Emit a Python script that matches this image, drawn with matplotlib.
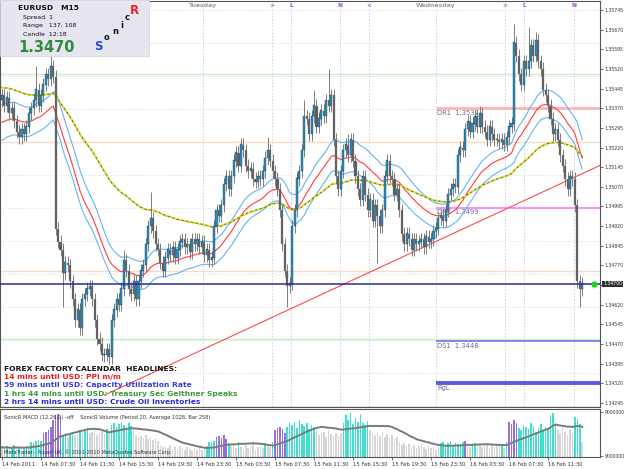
import numpy as np
import pandas as pd
import matplotlib
matplotlib.use('Agg')
import matplotlib.pyplot as plt
import matplotlib.transforms as mtransforms
from matplotlib.patches import Rectangle

# EURUSD M15, one close per bar, bar 0 = 14 Feb 2011 03:30
closes = [
    1.3542, 1.3538, 1.3541, 1.3535, 1.3537, 1.3532, 1.3528, 1.3526, 1.3529, 1.3527,
    1.3530, 1.3535, 1.3537, 1.3540, 1.3544, 1.3538, 1.3542, 1.3546, 1.3550, 1.3548,
    1.3553, 1.3549, 1.3491, 1.3486, 1.3483, 1.3474, 1.3478, 1.3477, 1.3471, 1.3464,
    1.3456, 1.3460, 1.3453, 1.3464, 1.3466, 1.3468, 1.3469, 1.3464, 1.3456, 1.3449,
    1.3447, 1.3443, 1.3443, 1.3445, 1.3442, 1.3456, 1.3460, 1.3464, 1.3462, 1.3468,
    1.3479, 1.3475, 1.3468, 1.3466, 1.3471, 1.3464, 1.3471, 1.3475, 1.3477, 1.3485,
    1.3492, 1.3495, 1.3490, 1.3485, 1.3483, 1.3478, 1.3475, 1.3480, 1.3483, 1.3481,
    1.3484, 1.3480, 1.3483, 1.3486, 1.3487, 1.3484, 1.3485, 1.3482, 1.3487, 1.3485,
    1.3487, 1.3484, 1.3486, 1.3481, 1.3483, 1.3479, 1.3480, 1.3492, 1.3498, 1.3496,
    1.3500, 1.3508, 1.3511, 1.3506, 1.3511, 1.3517, 1.3520, 1.3515, 1.3523, 1.3521,
    1.3515, 1.3513, 1.3514, 1.3510, 1.3509, 1.3511, 1.3510, 1.3513, 1.3518, 1.3521,
    1.3517, 1.3513, 1.3510, 1.3506, 1.3498, 1.3485, 1.3475, 1.3469, 1.3470, 1.3492,
    1.3498, 1.3510, 1.3513, 1.3521, 1.3534, 1.3533, 1.3527, 1.3534, 1.3538, 1.3530,
    1.3533, 1.3536, 1.3534, 1.3540, 1.3538, 1.3542, 1.3525, 1.3511, 1.3506, 1.3513,
    1.3521, 1.3523, 1.3519, 1.3525, 1.3517, 1.3511, 1.3506, 1.3502, 1.3511, 1.3504,
    1.3498, 1.3502, 1.3494, 1.3500, 1.3496, 1.3492, 1.3498, 1.3511, 1.3517, 1.3511,
    1.3510, 1.3504, 1.3506, 1.3498, 1.3489, 1.3485, 1.3489, 1.3487, 1.3483, 1.3487,
    1.3485, 1.3486, 1.3487, 1.3484, 1.3488, 1.3486, 1.3487, 1.3490, 1.3491, 1.3495,
    1.3496, 1.3494, 1.3498, 1.3504, 1.3506, 1.3508, 1.3507, 1.3519, 1.3522, 1.3521,
    1.3529, 1.3532, 1.3528, 1.3531, 1.3534, 1.3530, 1.3535, 1.3530, 1.3528, 1.3525,
    1.3530, 1.3527, 1.3525, 1.3525, 1.3524, 1.3525, 1.3523, 1.3526, 1.3530, 1.3531,
    1.3562, 1.3557, 1.3550, 1.3546, 1.3555, 1.3552, 1.3555, 1.3561, 1.3557, 1.3563,
    1.3555, 1.3552, 1.3544, 1.3542, 1.3538, 1.3533, 1.3527, 1.3529, 1.3525, 1.3519,
    1.3515, 1.3510, 1.3506, 1.3511, 1.3510, 1.3500, 1.3471, 1.3468, 1.3470,
]
first_open = 1.3540
wick = 0.00025
high_marks = {14: 1.3553, 20: 1.3557, 50: 1.3483, 61: 1.3505, 98: 1.3525, 109: 1.3526,
              124: 1.3540, 128: 1.3544, 134: 1.3552, 142: 1.3527, 196: 1.3538,
              210: 1.3569, 216: 1.3568, 219: 1.3566}
low_marks = {25: 1.3461, 42: 1.3440, 117: 1.3461, 154: 1.3478, 237: 1.3461}

# tick volume (percent of window) and climax bars
volumes = [
    20, 18, 22, 15, 19, 24, 17, 21, 16, 20, 23, 18,
    30, 28, 33, 35, 32,
    48, 52, 55, 62, 75, 86, 88, 80,
    45, 50, 40, 48, 52, 44, 46,
    55, 50, 58, 60, 48, 52, 56, 45, 50, 54, 47, 58, 50,
    66, 70, 62, 68, 72, 65, 60, 70, 64, 58,
    45, 40, 42, 38, 44, 36, 40, 35, 38, 32,
    25, 20, 22, 18, 24, 16, 20, 15, 22, 18, 14, 20, 17, 12, 18, 15, 20, 14, 16, 22,
    30, 28, 32,
    40, 42, 38, 44, 36,
    28, 22, 25, 18, 30, 20, 16, 24, 19, 22, 26, 15, 20, 23, 18, 28, 24, 21,
    30,
    55, 60, 62, 58, 50,
    62, 70, 66, 72, 60, 75, 68, 64, 70, 58, 66, 62, 55,
    45, 48, 52, 40, 55, 46, 42, 50, 44, 48,
    70, 85, 75, 90, 68, 80, 72, 88, 70, 65, 74,
    55, 50, 45, 48, 42, 52, 40, 46, 38, 44, 36, 40,
    30, 25, 28, 22, 26, 20, 24, 18, 22, 26, 20, 16, 24, 18, 20, 15, 22,
    28, 30, 25, 28, 32, 24, 29, 26, 27, 30,
    32,
    24, 20, 26, 28, 22, 25, 20, 23, 26, 18, 24, 21, 25, 22, 26, 19, 30,
    72, 68, 75, 70,
    60, 55, 66, 62, 58, 70, 64, 52, 60, 68, 56, 62, 58,
    85, 90,
    70, 55, 48, 62, 52, 45, 58, 50,
    82, 78, 68, 30,
]
climax_bars = list(range(17, 25)) + list(range(88, 93)) + list(range(112, 117)) + [190] + list(range(208, 212))

time_ticks = list(range(0, 225, 16))
time_labels = ['14 Feb 2011', '14 Feb 07:30', '14 Feb 11:30', '14 Feb 15:30', '14 Feb 19:30',
               '14 Feb 23:30', '15 Feb 03:30', '15 Feb 07:30', '15 Feb 11:30', '15 Feb 15:30',
               '15 Feb 19:30', '15 Feb 23:30', '16 Feb 03:30', '16 Feb 07:30', '16 Feb 11:30']

# session markers (bar index, label)
day_marks = [(82.5, 'Tuesday'), (178, 'Wednesday')]
session_marks = [(110.8, '>'), (118.6, 'L'), (138.5, 'N'), (150.6, '<'),
                 (206.4, '>'), (214.2, 'L'), (234.7, 'N')]

# pivots of the day
pivot_start = 178
pivots = [('DR1', 1.3537, '#ffb4b4', 2.0), ('DPV', 1.3499, '#ff8cff', 1.4),
          ('DS1', 1.3448, '#7b7bea', 1.3), ('RgL', 1.3432, '#5a5ae8', 2.8)]
green_levels = [1.3550, 1.3449]
peach_levels = [1.3524, 1.3475]
bid = 1.3470
trend_start = (42, 1.34275)
trend_end = (250, 1.35172)

ema_seeds = {'high': 1.3538, 'close': 1.3531, 'low': 1.3524, 'slow': 1.3545}

news = [('FOREX FACTORY CALENDAR  HEADLINES:', '#111111'),
        ('14 mins until USD: PPI m/m', '#ee2020'),
        ('59 mins until USD: Capacity Utilization Rate', '#3a3ae0'),
        ('1 hrs 44 mins until USD: Treasury Sec Geithner Speaks', '#3a9a3a'),
        ('2 hrs 14 mins until USD: Crude Oil Inventories', '#2a2ae0')]


def ema(values, period, seed):
    a = 2.0 / (period + 1)
    out = []
    e = seed
    for v in values:
        e = e + a * (v - e)
        out.append(e)
    return np.array(out)


c = np.array(closes)
n = len(c)
idx = np.arange(n)
o = np.concatenate([[first_open], c[:-1]])
hi = np.maximum(o, c) + wick
lo = np.minimum(o, c) - wick
for k, v in high_marks.items():
    hi[k] = max(hi[k], v)
for k, v in low_marks.items():
    lo[k] = min(lo[k], v)

W, H = 625, 469
fig = plt.figure(figsize=(W / 100, H / 100), dpi=100)
fig.patch.set_facecolor('white')


def px_axes(x0, y0, x1, y1):
    return fig.add_axes([x0 / W, 1 - y1 / H, (x1 - x0) / W, (y1 - y0) / H])


ax = px_axes(0, 1, 600, 407)
axv = px_axes(0, 409, 600, 457)

x_lo, x_hi = -0.82, 245.3
ax.set_xlim(x_lo, x_hi)
ax.set_ylim(1.342296, 1.357794)

# grid
for g in np.arange(1.35745, 1.3420, -0.00126):
    ax.axhline(g, color='#cdcdd8', lw=0.6, ls=(0, (1, 2)), zorder=0)
for xi, _ in day_marks + session_marks:
    ax.axvline(xi, color='#cdcdd8', lw=0.6, ls=(0, (2, 2)), zorder=0)
for g in green_levels:
    ax.axhline(g, color='#c6f0c6', lw=1.0, zorder=0.5)
for g in peach_levels:
    ax.axhline(g, color='#f7dcc8', lw=1.0, zorder=0.5)

tb = mtransforms.blended_transform_factory(ax.transData, ax.transAxes)
for xi, lab in day_marks:
    ax.text(xi, 0.988, lab, transform=tb, ha='center', va='center', fontsize=4.4,
            fontweight='bold', color='#9a9a9a')
for xi, lab in session_marks:
    ax.text(xi, 0.988, lab, transform=tb, ha='center', va='center', fontsize=4.4,
            fontweight='bold', color='#a050d0')

# pivots
for name, lvl, col, lw in pivots:
    ax.hlines(lvl, pivot_start, x_hi + 5, color=col, lw=lw, zorder=1)
    lab = name if name == 'RgL' else '%s  %.4f' % (name, lvl)
    ax.text(pivot_start + 0.6, lvl - 0.00006, lab, ha='left', va='top', fontsize=4.9,
            color='#6a6a8a', zorder=1.5)

# trend line
ax.plot([trend_start[0], trend_end[0]], [trend_start[1], trend_end[1]], color='#ff4a4a',
        lw=0.8, zorder=2)

# moving averages
e_hi = ema(hi, 34, ema_seeds['high'])
e_cl = ema(c, 34, ema_seeds['close'])
e_lo = ema(lo, 34, ema_seeds['low'])
e_slow = ema(c, 89, ema_seeds['slow'])
ax.plot(idx, e_hi, color='#66b4f0', lw=0.8, zorder=2)
ax.plot(idx, e_lo, color='#66b4f0', lw=0.8, zorder=2)
ax.plot(idx, e_cl, color='#ff3c3c', lw=0.8, zorder=2)
ax.plot(idx, e_slow, color='#7a7a18', lw=1.0, zorder=2)
ax.plot(idx, e_slow, color='#f0f000', lw=1.0, ls=(0, (2, 1.5)), zorder=2.1)

# candles
up = c >= o
ax.vlines(idx, lo, hi, color='#7c7c7c', lw=0.7, zorder=3)
ax.bar(idx[up], (c - o)[up] + 0.00002, bottom=o[up], width=0.85, color='#2594cc',
       edgecolor='#1a1a1a', lw=0.25, zorder=4)
ax.bar(idx[~up], (o - c)[~up], bottom=c[~up], width=0.85, color='#5a5a5a',
       edgecolor='#8c8c8c', lw=0.25, zorder=4)

# bid line
ax.axhline(bid, color='#2a2a9c', lw=1.1, zorder=5)
ax.plot([243], [bid], 'o', color='#18d818', ms=3.5, zorder=6)

# price axis (the bid label takes the place of the tick next to it)
yt = np.arange(1.34245, 1.3577, 0.00075)
ax.yaxis.tick_right()
ax.set_yticks(yt)
ax.set_yticklabels(['' if abs(t - bid) < 0.0003 else '%.5f' % t for t in yt])
ax.tick_params(axis='y', labelsize=3.3, length=2, width=0.5, colors='#333333', pad=1.2)
ax.set_xticks([])
tr = mtransforms.blended_transform_factory(ax.transAxes, ax.transData)
ax.text(1.005, bid, '%.5f' % bid, transform=tr, ha='left', va='center', fontsize=3.3,
        color='white', bbox=dict(boxstyle='square,pad=0.15', fc='#303030', ec='none'),
        zorder=7)
for sp in ax.spines.values():
    sp.set_color('#555555')
    sp.set_linewidth(0.8)

# news headlines
for k, (txt, col) in enumerate(news):
    fig.text(4 / W, 1 - (369 + 8.2 * k) / H, txt, ha='left', va='center', fontsize=5.4,
             fontweight='bold', color=col)

# info box
fig.patches.append(Rectangle((0, 1 - 56 / H), 149 / W, 56 / H, transform=fig.transFigure,
                             fc='#e6e6ef', ec='#d0d0dc', lw=0.5, zorder=5))
fig.text(18 / W, 1 - 8 / H, 'EURUSD   M15', fontsize=5.4, fontweight='bold', color='#111111',
         va='center', zorder=6)
for k, txt in enumerate(['Spread  1', 'Range   137, 108', 'Candle  12:18']):
    fig.text(23 / W, 1 - (17 + 8.5 * k) / H, txt, fontsize=4.5, color='#111111', va='center',
             zorder=6)
fig.text(18 / W, 1 - 47 / H, '1.3470', fontsize=10.5, fontweight='bold', color='#2e8b3c',
         va='center', zorder=6)
for ch, xx, yy, sz, col in [('S', 98, 46, 8.5, '#2a4ae8'), ('o', 107, 38, 6, '#111111'),
                            ('n', 115, 32, 6, '#111111'), ('i', 122, 26, 6, '#111111'),
                            ('c', 127, 18, 6, '#111111'), ('R', 134, 10, 8.5, '#ee2020')]:
    fig.text(xx / W, 1 - yy / H, ch, fontsize=sz, fontweight='bold', color=col,
             ha='center', va='center', zorder=6)

# volume window
v = np.array(volumes, dtype=float)
vma = pd.Series(v).rolling(20, min_periods=1).mean().values
cols = np.where(v > vma, '#3fe0d0', '#d6d6d6').astype(object)
cols[climax_bars] = '#9370db'
axv.bar(idx, v, width=0.65, color=list(cols), zorder=2)
axv.plot(idx, vma, color='#7a7a7a', lw=1.4, zorder=3)
axv.set_xlim(x_lo, x_hi)
axv.set_ylim(0, 98)
axv.yaxis.tick_right()
axv.set_yticks([2, 92])
axv.set_yticklabels(['9000000', '9000000'])
axv.tick_params(axis='y', labelsize=3.3, length=2, width=0.5, colors='#333333', pad=1.2)
axv.set_xticks(time_ticks)
axv.set_xticklabels(time_labels)
axv.tick_params(axis='x', labelsize=3.8, length=2, width=0.5, colors='#333333', pad=1.5)
for lab in axv.get_xticklabels():
    lab.set_ha('left')
for sp in axv.spines.values():
    sp.set_color('#555555')
    sp.set_linewidth(0.8)
axv.text(0.007, 0.83, 'SonicR MACD (12,26,9) -off    SonicR Volume (Period 20, Average 1028, Bar 258)',
         transform=axv.transAxes, fontsize=3.7, color='#333333', va='center', zorder=4)
axv.text(0.007, 0.1, 'MetaTrader - Alpari UK, \u00a9 2001-2010 MetaQuotes Software Corp.',
         transform=axv.transAxes, fontsize=3.7, color='#333333', va='center', zorder=4)

fig.savefig('out.png', dpi=100)
